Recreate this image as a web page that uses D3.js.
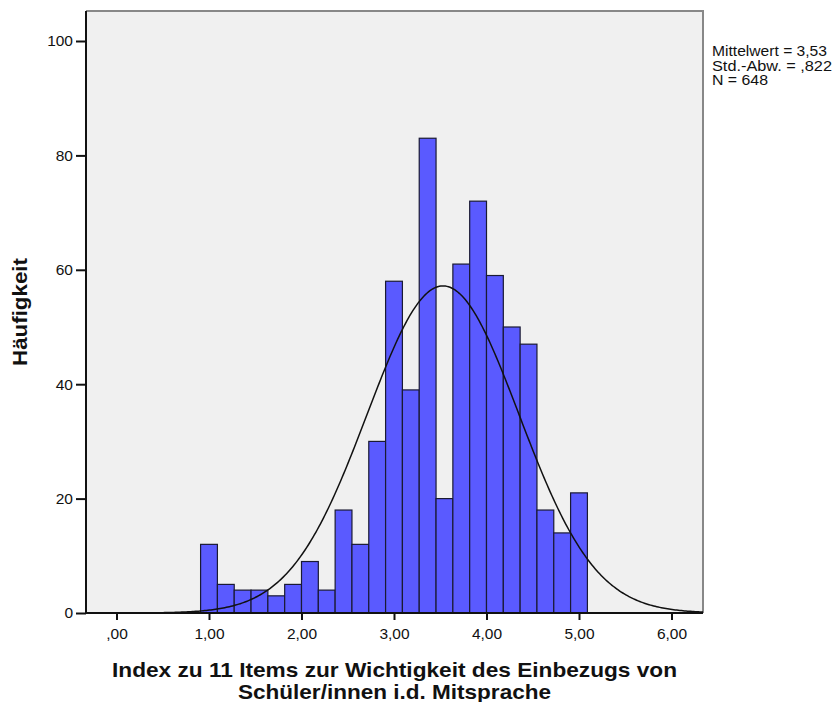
<!DOCTYPE html>
<html>
<head>
<meta charset="utf-8">
<script src="https://cdn.jsdelivr.net/npm/d3@7"></script>
<style>
  html, body { margin: 0; padding: 0; background: #fff; }
  svg { display: block; font-family: "Liberation Sans", Arial, sans-serif; }
</style>
</head>
<body>
<svg id="chart" width="840" height="702"></svg>
<script>
// Histogram of the index (bin centres from 1,00 to 5,00, width 4/22)
const binCenters = d3.range(23).map(k => 1 + k * 4 / 22);
const counts = [12, 5, 4, 4, 3, 5, 9, 4, 18, 12, 30, 58, 39, 83, 20, 61, 72, 59, 50, 47, 18, 14, 21];
const binWidth = 4 / 22;

const stats = { mean: 3.53, sd: 0.822, n: 648 };
const statLabels = ["Mittelwert = 3,53", "Std.-Abw. = ,822", "N = 648"];
const statWidths = [115, 120, 56];

const xTicks = [0, 1, 2, 3, 4, 5, 6];
const yTicks = [0, 20, 40, 60, 80, 100];
const xTitle = ["Index zu 11 Items zur Wichtigkeit des Einbezugs von", "Schüler/innen i.d. Mitsprache"];
const xTitleWidths = [565, 313];
const yTitle = "Häufigkeit";

const svg = d3.select("#chart");
const plot = { left: 86, top: 11, right: 703, bottom: 613 };

const x = d3.scaleLinear().domain([0, 6]).range([116.5, 671.5]);
const y = d3.scaleLinear().domain([0, 100]).range([plot.bottom, 41]);

// plot area background and frame
svg.append("rect")
  .attr("x", plot.left).attr("y", plot.top)
  .attr("width", plot.right - plot.left).attr("height", plot.bottom - plot.top)
  .attr("fill", "#f0f0f0");
svg.append("path")
  .attr("d", `M${plot.left},${plot.top}H${plot.right}V${plot.bottom}`)
  .attr("fill", "none").attr("stroke", "#888").attr("stroke-width", 2);

// bars
svg.append("g").selectAll("rect").data(counts).join("rect")
  .attr("x", (d, i) => x(binCenters[i] - binWidth / 2))
  .attr("width", (d, i) => x(binCenters[i] + binWidth / 2) - x(binCenters[i] - binWidth / 2))
  .attr("y", d => y(d))
  .attr("height", d => y(0) - y(d))
  .attr("fill", "#5a5aff")
  .attr("stroke", "#1a1a33")
  .attr("stroke-width", 1.2);

// fitted normal curve scaled to the histogram
const xMin = x.invert(plot.left), xMax = x.invert(plot.right);
const curvePts = d3.range(0, 401).map(i => {
  const v = xMin + (xMax - xMin) * i / 400;
  const z = (v - stats.mean) / stats.sd;
  return [v, stats.n * binWidth * Math.exp(-0.5 * z * z) / (stats.sd * Math.sqrt(2 * Math.PI))];
});
svg.append("path")
  .datum(curvePts)
  .attr("d", d3.line().x(d => x(d[0])).y(d => y(d[1])))
  .attr("fill", "none").attr("stroke", "#111").attr("stroke-width", 1.5);

// axes
const fmtX = v => v === 0 ? ",00" : d3.format(".2f")(v).replace(".", ",");
const xAxis = svg.append("g")
  .attr("transform", `translate(0,${plot.bottom})`)
  .call(d3.axisBottom(x).tickValues(xTicks).tickFormat(fmtX).tickSizeInner(7).tickSizeOuter(0).tickPadding(8));
xAxis.select(".domain").attr("d", `M${plot.left},0H${plot.right}`).attr("stroke", "#111").attr("stroke-width", 2);

const yAxis = svg.append("g")
  .attr("transform", `translate(${plot.left},0)`)
  .call(d3.axisLeft(y).tickValues(yTicks).tickSizeInner(10).tickSizeOuter(0).tickPadding(3));
yAxis.select(".domain").attr("d", `M0,${plot.top}V${plot.bottom}`).attr("stroke", "#111").attr("stroke-width", 2);

svg.selectAll(".tick line").attr("stroke", "#111").attr("stroke-width", 2);
svg.selectAll(".tick text")
  .attr("fill", "#111")
  .style("font-family", "'Liberation Sans', Arial, sans-serif")
  .style("font-size", "15.5px");

// axis titles
svg.append("text")
  .attr("transform", `translate(27,${(plot.top + plot.bottom) / 2}) rotate(-90)`)
  .attr("text-anchor", "middle")
  .attr("textLength", 108).attr("lengthAdjust", "spacingAndGlyphs")
  .style("font-size", "21px").style("font-weight", "bold")
  .attr("fill", "#111")
  .text(yTitle);

svg.append("g").selectAll("text").data(xTitle).join("text")
  .attr("x", (plot.left + plot.right) / 2)
  .attr("y", (d, i) => 676.5 + i * 22)
  .attr("text-anchor", "middle")
  .attr("textLength", (d, i) => xTitleWidths[i]).attr("lengthAdjust", "spacingAndGlyphs")
  .style("font-size", "21px").style("font-weight", "bold")
  .attr("fill", "#111")
  .text(d => d);

// summary statistics
svg.append("g").selectAll("text").data(statLabels).join("text")
  .attr("x", 712)
  .attr("y", (d, i) => 56 + i * 14.5)
  .attr("textLength", (d, i) => statWidths[i]).attr("lengthAdjust", "spacingAndGlyphs")
  .style("font-size", "14px")
  .attr("fill", "#111")
  .text(d => d);
</script>
</body>
</html>
